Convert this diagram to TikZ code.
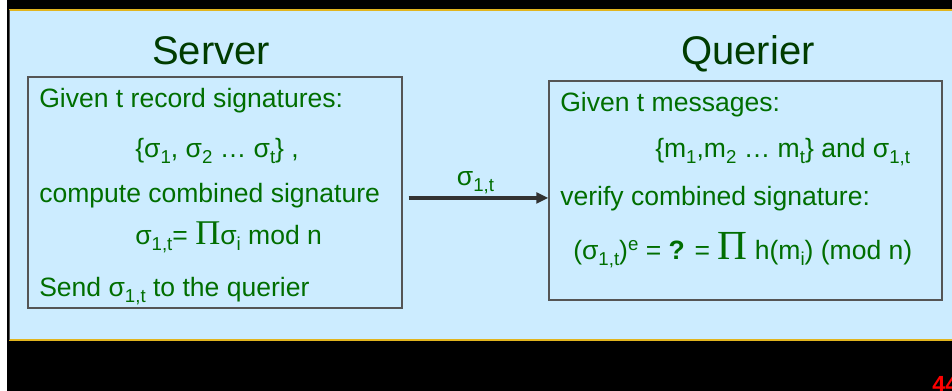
\documentclass[tikz,border=0pt]{standalone}
\usepackage{fontspec}
\setmainfont{Liberation Sans}
\newfontfamily\prodfont{Liberation Serif}
\usetikzlibrary{arrows.meta,positioning}
\definecolor{sky}{RGB}{204,236,255}
\definecolor{gold}{RGB}{225,180,30}
\definecolor{forest}{RGB}{0,110,0}
\definecolor{pine}{RGB}{0,60,0}
\definecolor{slate}{RGB}{85,85,85}
\definecolor{ink}{RGB}{50,50,50}
% sub/superscripts and the big product sign
\newcommand{\lowr}[1]{\raisebox{-4pt}{\fontsize{14}{14}\selectfont #1}}
\newcommand{\highr}[1]{\raisebox{7pt}{\fontsize{14}{14}\selectfont #1}}
\newcommand{\bigpi}[1]{{\prodfont\fontsize{#1}{#1}\selectfont Π}}
\tikzset{
  >={Triangle[length=9pt,width=8pt]},
  party/.style={font=\fontsize{30}{36}\selectfont,text=pine,inner sep=0pt,anchor=base},
  frame/.style={draw=slate,line width=1pt,inner sep=0pt},
  txt/.style={font=\fontsize{19.9}{24}\selectfont,text=forest,inner sep=0pt,anchor=base west},
  flow/.style={->,line width=2.8pt,draw=ink},
}
\begin{document}
\begin{tikzpicture}[x=0.75pt,y=-0.75pt]
  \useasboundingbox (0,0) rectangle (952,391);
  \fill[white] (0,0) rectangle (952,391);
  \fill[black] (7,0) rectangle (952,391);
  \fill[sky] (9,10) rectangle (952,340);
  \draw[gold,line width=1.2pt] (9,10) -- (952,10) (9,340) -- (952,340);
  \draw[slate,line width=0.8pt] (9.5,10) -- (9.5,340);

  % server side
  \node[party] (srvtitle) at (211,65) {Server};
  \node[frame,minimum width=280.5pt,minimum height=173.25pt] (srv) at (215,192.5) {};
  \node[txt] (s1) at (39,108) {Given t record signatures:};
  \node[txt] (s2) at (135,158) {\{σ\lowr{1}, σ\lowr{2} … σ\lowr{t}\} ,};
  \node[txt] (s3) at (39,203) {compute combined signature};
  \node[txt] (s4) at (135,245) {σ\lowr{1,t}= \bigpi{26}σ\lowr{i} mod n};
  \node[txt] (s5) at (39,297) {Send σ\lowr{1,t} to the querier};

  % querier side
  \node[party] (qrytitle) at (748,65) {Querier};
  \node[frame,minimum width=294.75pt,minimum height=164.25pt] (qry) at (745.5,190.5) {};
  \node[txt] (q1) at (560,112) {Given t messages:};
  \node[txt] (q2) at (655,158) {\{m\lowr{1},m\lowr{2} … m\lowr{t}\} and σ\lowr{1,t}};
  \node[txt] (q3) at (560,206) {verify combined signature:};
  \node[txt] (q4) at (573,260) {(σ\lowr{1,t})\highr{e} = \textbf{?} = \bigpi{31} h(m\lowr{i}) (mod n)};

  \draw[flow,shorten <=4.5pt] ([yshift=-4.1pt]srv.east) -- node[txt,anchor=base,yshift=9pt] (sig) {σ\lowr{1,t}} ([yshift=-4.1pt]srv.east -| qry.west);

  \node[font=\fontsize{17.5}{20}\selectfont\bfseries,text=red,inner sep=0pt,anchor=base west] (pageno) at (932,392) {44};
\end{tikzpicture}
\end{document}
